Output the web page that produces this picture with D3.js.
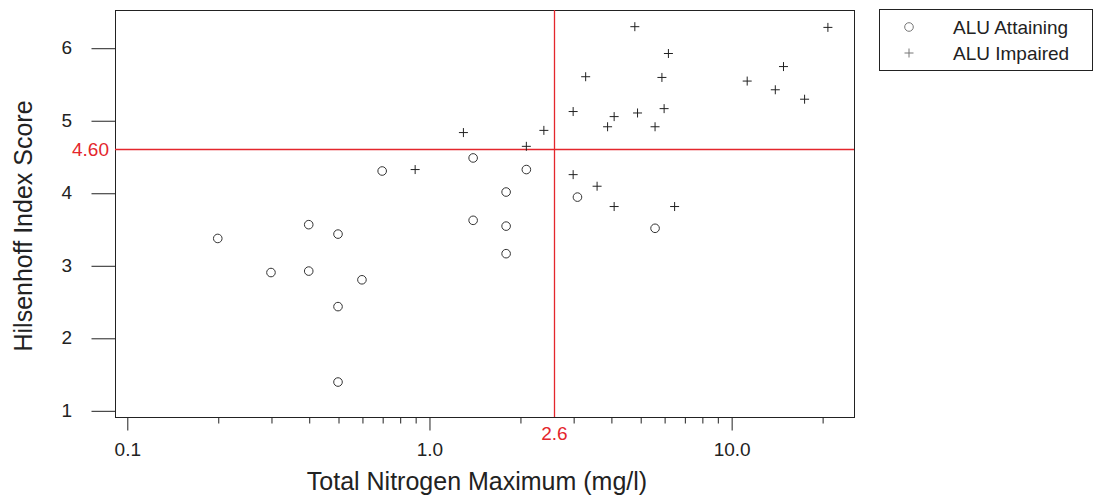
<!DOCTYPE html>
<html>
<head>
<meta charset="utf-8">
<script src="https://cdn.jsdelivr.net/npm/d3@7"></script>
<style>
  body { margin: 0; background: #fff; }
  text { font-family: Arial, "Liberation Sans", sans-serif; }
</style>
</head>
<body>
<script>
// values
var xAttain = [0.2, 0.3, 0.4, 0.4, 0.5, 0.5, 0.5, 0.6, 0.7, 1.4, 1.4, 1.8, 1.8, 1.8, 2.1, 3.1, 5.6];
var yAttain = [3.37, 2.90, 3.56, 2.92, 3.43, 2.43, 1.39, 2.80, 4.30, 4.48, 3.62, 4.01, 3.54, 3.16, 4.32, 3.94, 3.51];
var xImpair = [0.9, 1.3, 2.1, 2.4, 3.0, 3.0, 3.3, 3.6, 3.9, 4.1, 4.1, 4.8, 4.9, 5.6, 5.9, 6.0, 6.2, 6.5, 11.3, 14.0, 14.9, 17.5, 20.9];
var yImpair = [4.32, 4.83, 4.64, 4.86, 5.12, 4.25, 5.60, 4.09, 4.91, 5.05, 3.81, 6.29, 5.10, 4.91, 5.59, 5.16, 5.92, 3.81, 5.54, 5.42, 5.74, 5.29, 6.28];
var xMajor = [0.1, 1, 10];
var xMinor = [0.2, 0.3, 0.4, 0.5, 0.6, 0.7, 0.8, 0.9, 2, 3, 4, 5, 6, 7, 8, 9, 20];
var yTicks = [1, 2, 3, 4, 5, 6];
var refX = 2.6, refY = 4.60;
var seriesNames = ["ALU Attaining", "ALU Impaired"];

var W = 1102, H = 504;
var pLeft = 115, pRight = 854, pTop = 10, pBottom = 417;
var red = "#e4262c";
var ink = "#222";

var svg = d3.select("body").append("svg").attr("width", W).attr("height", H);

var x = d3.scaleLog().domain([0.0914, 25.5]).range([pLeft, pRight]);
var y = d3.scaleLinear().domain([0.908, 6.52]).range([pBottom, pTop]);

// y axis: tick lines from the axis, labels set apart on their own
var gy = svg.append("g").attr("transform", "translate(" + (pLeft + 0.5) + ",0.5)")
  .call(d3.axisLeft(y).tickValues(yTicks).tickSizeInner(24).tickSizeOuter(0).tickFormat(""));
gy.select(".domain").remove();
gy.selectAll(".tick line").style("stroke", ink);

svg.append("g").selectAll("text").data(yTicks).enter()
  .append("text")
  .text(d3.format("d"))
  .attr("x", pLeft - 43)
  .attr("y", function(d){ return y(d); })
  .attr("dy", "0.35em")
  .attr("text-anchor", "end")
  .style("font-size", "19px").style("fill", ink);

// x axis: minor then major ticks
var gxm = svg.append("g").attr("transform", "translate(0.5," + (pBottom + 0.5) + ")")
  .call(d3.axisBottom(x).tickValues(xMinor).tickSizeInner(6).tickSizeOuter(0).tickFormat(""));
gxm.select(".domain").remove();
gxm.selectAll(".tick line").style("stroke", ink);

var gx = svg.append("g").attr("transform", "translate(0.5," + (pBottom + 0.5) + ")")
  .call(d3.axisBottom(x).tickValues(xMajor).tickSizeInner(13).tickSizeOuter(0).tickPadding(12).tickFormat(d3.format(".1f")));
gx.select(".domain").remove();
gx.selectAll(".tick line").style("stroke", ink);
gx.selectAll(".tick text").style("font-size", "19px").style("fill", ink);

// frame
svg.append("rect")
  .attr("x", pLeft + 0.5).attr("y", pTop + 0.5)
  .attr("width", pRight - pLeft).attr("height", pBottom - pTop)
  .style("fill", "none").style("stroke", ink).style("stroke-width", 1);

// reference lines
var ry = Math.round(y(refY)) + 0.5;
var rx = Math.round(x(refX)) + 0.5;
svg.append("line")
  .attr("x1", pLeft).attr("x2", pRight).attr("y1", ry).attr("y2", ry)
  .style("stroke", red).style("stroke-width", 1.3);
svg.append("line")
  .attr("x1", rx).attr("x2", rx).attr("y1", pTop).attr("y2", pBottom)
  .style("stroke", red).style("stroke-width", 1.3);

svg.append("text").text(refY.toFixed(2))
  .attr("x", pLeft - 6).attr("y", y(refY)).attr("dy", "0.35em")
  .attr("text-anchor", "end").style("font-size", "19px").style("fill", red);
svg.append("text").text(refX.toFixed(1))
  .attr("x", x(refX)).attr("y", 440)
  .attr("text-anchor", "middle").style("font-size", "19px").style("fill", red);

// points
var attain = xAttain.map(function(d, i){ return [d, yAttain[i]]; });
var impair = xImpair.map(function(d, i){ return [d, yImpair[i]]; });

svg.append("g").selectAll("circle").data(attain).enter()
  .append("circle")
  .attr("cx", function(d){ return x(d[0]); })
  .attr("cy", function(d){ return y(d[1]); })
  .attr("r", 4.3)
  .style("fill", "none").style("stroke", "#333").style("stroke-width", 1);

svg.append("g").selectAll("path").data(impair).enter()
  .append("path")
  .attr("transform", function(d){ return "translate(" + x(d[0]) + "," + y(d[1]) + ")"; })
  .attr("d", "M-4.5,0H4.5M0,-4.5V4.5")
  .style("fill", "none").style("stroke", ink).style("stroke-width", 1);

// axis titles
svg.append("text").text("Total Nitrogen Maximum (mg/l)")
  .attr("x", 477).attr("y", 490)
  .attr("text-anchor", "middle").style("font-size", "25px").style("fill", ink);
svg.append("text").text("Hilsenhoff Index Score")
  .attr("transform", "translate(32,226) rotate(-90)")
  .attr("text-anchor", "middle").style("font-size", "25px").style("fill", ink);

// legend
var lg = svg.append("g");
lg.append("rect").attr("x", 879.5).attr("y", 9.5).attr("width", 213).attr("height", 61)
  .style("fill", "none").style("stroke", ink);
lg.append("circle").attr("cx", 909).attr("cy", 27).attr("r", 4.3)
  .style("fill", "none").style("stroke", "#777");
lg.append("path").attr("transform", "translate(909,53)").attr("d", "M-4.5,0H4.5M0,-4.5V4.5")
  .style("stroke", "#777");
lg.selectAll("text.leg").data(seriesNames).enter()
  .append("text").attr("class", "leg").text(function(d){ return d; })
  .attr("x", 953).attr("y", function(d, i){ return 27 + i * 26; }).attr("dy", "0.35em")
  .style("font-size", "19px").style("fill", ink);
</script>
</body>
</html>
